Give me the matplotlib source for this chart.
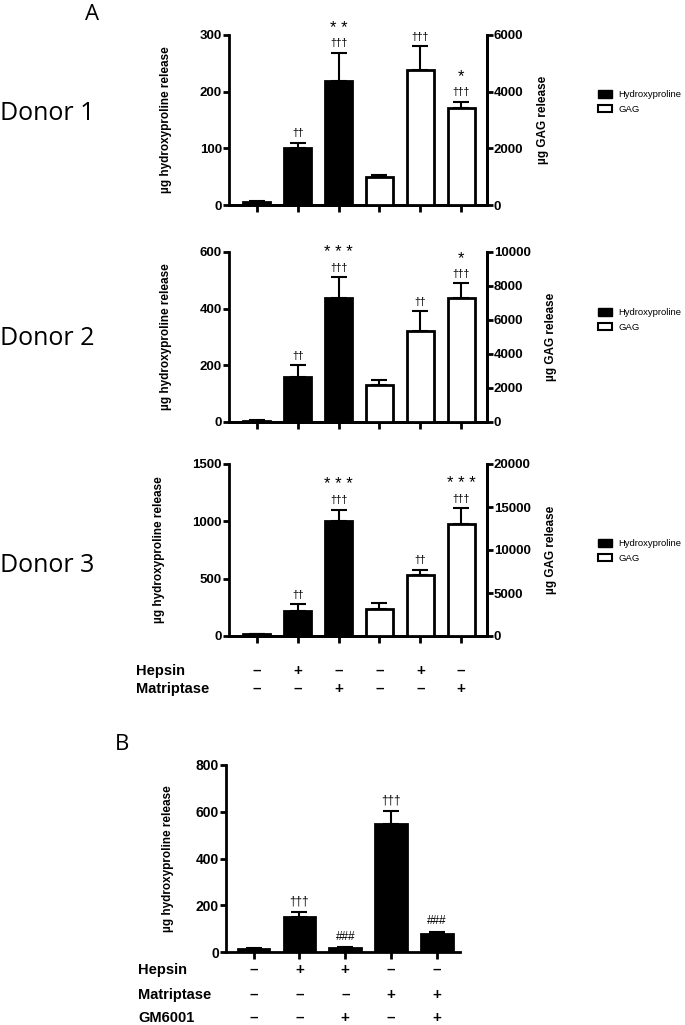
import matplotlib
matplotlib.use("Agg")
import matplotlib.pyplot as plt
from matplotlib.transforms import blended_transform_factory
from matplotlib.patches import Patch

plt.rcParams['font.family'] = ['Liberation Sans', 'DejaVu Sans']

# panel A data (per donor): hydroxyproline on left axis, GAG on right axis
hyp_d1 = [6, 101, 218]
hyp_err_d1 = [1, 9, 51]
gag_d1 = [1000, 4760, 3410]
gag_err_d1 = [60, 850, 240]

hyp_d2 = [5, 160, 438]
hyp_err_d2 = [1, 41, 73]
gag_d2 = [2200, 5350, 7310]
gag_err_d2 = [250, 1160, 870]

hyp_d3 = [15, 220, 1005]
hyp_err_d3 = [3, 55, 97]
gag_d3 = [3150, 7040, 13060]
gag_err_d3 = [700, 660, 1830]

hyp_marks_d1 = ["", "††", "†††"]
hyp_stars_d1 = ["", "", "* *"]
gag_marks_d1 = ["", "†††", "†††"]
gag_stars_d1 = ["", "", "*"]

hyp_marks_d2 = ["", "††", "†††"]
hyp_stars_d2 = ["", "", "* * *"]
gag_marks_d2 = ["", "††", "†††"]
gag_stars_d2 = ["", "", "*"]

hyp_marks_d3 = ["", "††", "†††"]
hyp_stars_d3 = ["", "", "* * *"]
gag_marks_d3 = ["", "††", "†††"]
gag_stars_d3 = ["", "", "* * *"]

hepsin_a = ["–", "+", "–", "–", "+", "–"]
matriptase_a = ["–", "–", "+", "–", "–", "+"]

# panel B data
hyp_b = [14, 150, 18, 546, 76]
hyp_err_b = [1, 20, 2, 57, 10]
marks_b = ["", "†††", "###", "†††", "###"]
hepsin_b = ["–", "+", "+", "–", "–"]
matriptase_b = ["–", "–", "–", "+", "+"]
gm6001_b = ["–", "–", "+", "–", "+"]

fig = plt.figure(figsize=(6.85, 10.25), dpi=100)
W, H = 685.0, 1025.0


def rect(x0, y0, x1, y1):
    return [x0 / W, 1 - y1 / H, (x1 - x0) / W, (y1 - y0) / H]


def style_axis(ax):
    ax.spines['top'].set_visible(False)
    for s in ["left", "bottom", "right"]:
        ax.spines[s].set_linewidth(2)
    ax.tick_params(axis='y', length=4, width=2, labelsize=9.5, pad=1)
    ax.tick_params(axis='x', length=5, width=2, labelbottom=False)
    for lab in ax.get_yticklabels():
        lab.set_fontweight('bold')


def draw_donor(y0, y1, hyp, hyp_err, gag, gag_err, hyp_lim, gag_lim,
               hyp_marks, hyp_stars, gag_marks, gag_stars, donor, donor_y, leg_y):
    ax = fig.add_axes(rect(229, y0, 487, y1))
    ax2 = ax.twinx()
    xh = [0, 1, 2]
    xg = [3, 4, 5]
    ax.bar(xh, hyp, width=0.66, color='black', edgecolor='black', linewidth=2, zorder=3)
    ax.errorbar(xh, hyp, yerr=[[0] * 3, hyp_err], fmt='none', ecolor='black',
                elinewidth=1.5, capsize=6, capthick=1.5, zorder=2)
    ax2.bar(xg, gag, width=0.66, color='white', edgecolor='black', linewidth=2, zorder=3)
    ax2.errorbar(xg, gag, yerr=[[0] * 3, gag_err], fmt='none', ecolor='black',
                 elinewidth=1.5, capsize=6, capthick=1.5, zorder=2)
    ax.set_xlim(-0.68, 5.63)
    ax.set_ylim(0, hyp_lim[-1])
    ax.set_yticks(hyp_lim)
    ax2.set_ylim(0, gag_lim[-1])
    ax2.set_yticks(gag_lim)
    ax.set_xticks(range(6))
    style_axis(ax)
    style_axis(ax2)
    ax2.spines['left'].set_visible(False)
    ax2.tick_params(axis='x', bottom=False)
    ax.set_ylabel("µg hydroxyproline release", fontsize=8.5, fontweight='bold', labelpad=20)
    ax2.set_ylabel("µg GAG release", fontsize=8.5, fontweight='bold', labelpad=10)

    hr = hyp_lim[-1]
    gr = gag_lim[-1]
    for i in range(3):
        top = hyp[i] + hyp_err[i]
        if hyp_marks[i]:
            ax.text(xh[i], top + hr * 0.025, hyp_marks[i], ha='center', va='bottom', fontsize=7.5)
        if hyp_stars[i]:
            ax.text(xh[i], top + hr * 0.1, hyp_stars[i], ha='center', va='bottom', fontsize=12)
        top = gag[i] + gag_err[i]
        if gag_marks[i]:
            ax2.text(xg[i], top + gr * 0.025, gag_marks[i], ha='center', va='bottom', fontsize=7.5)
        if gag_stars[i]:
            ax2.text(xg[i], top + gr * 0.1, gag_stars[i], ha='center', va='bottom', fontsize=12)

    fig.text(0 / W, 1 - donor_y / H, donor, fontsize=18,
             family=['Open Sans', 'DejaVu Sans'], va='center', ha='left')
    handles = [Patch(facecolor='black', edgecolor='black', label='Hydroxyproline'),
               Patch(facecolor='white', edgecolor='black', linewidth=1.5, label='GAG')]
    fig.legend(handles=handles, loc='upper left', bbox_to_anchor=(594 / W, 1 - leg_y / H),
               frameon=False, fontsize=6.8, handlelength=1.5, handleheight=0.9,
               labelspacing=0.6, handletextpad=0.7, borderaxespad=0)
    return ax


draw_donor(35, 205, hyp_d1, hyp_err_d1, gag_d1, gag_err_d1,
           [0, 100, 200, 300], [0, 2000, 4000, 6000],
           hyp_marks_d1, hyp_stars_d1, gag_marks_d1, gag_stars_d1, "Donor 1", 113, 86)
draw_donor(252, 422, hyp_d2, hyp_err_d2, gag_d2, gag_err_d2,
           [0, 200, 400, 600], [0, 2000, 4000, 6000, 8000, 10000],
           hyp_marks_d2, hyp_stars_d2, gag_marks_d2, gag_stars_d2, "Donor 2", 338, 304)
ax3 = draw_donor(464, 636, hyp_d3, hyp_err_d3, gag_d3, gag_err_d3,
                 [0, 500, 1000, 1500], [0, 5000, 10000, 15000, 20000],
                 hyp_marks_d3, hyp_stars_d3, gag_marks_d3, gag_stars_d3, "Donor 3", 566, 535)

tr = blended_transform_factory(ax3.transData, fig.transFigure)
for i in range(6):
    fig.text(i, 1 - 671 / H, hepsin_a[i], transform=tr, ha='center', va='center',
             fontsize=11, fontweight='bold')
    fig.text(i, 1 - 689 / H, matriptase_a[i], transform=tr, ha='center', va='center',
             fontsize=11, fontweight='bold')
fig.text(136 / W, 1 - 671 / H, "Hepsin", fontsize=10.5, fontweight='bold', va='center')
fig.text(136 / W, 1 - 689 / H, "Matriptase", fontsize=10.5, fontweight='bold', va='center')
fig.text(92 / W, 1 - 14 / H, "A", fontsize=16, family=['Open Sans', 'DejaVu Sans'],
         va='center', ha='center')

# panel B
axb = fig.add_axes(rect(226, 765, 460, 952))
xb = range(5)
axb.bar(xb, hyp_b, width=0.69, color='black', edgecolor='black', linewidth=2, zorder=3)
axb.errorbar(xb, hyp_b, yerr=[[0] * 5, hyp_err_b], fmt='none', ecolor='black',
             elinewidth=1.5, capsize=6, capthick=1.5, zorder=2)
axb.set_xlim(-0.6, 4.5)
axb.set_ylim(0, 800)
axb.set_yticks([0, 200, 400, 600, 800])
axb.set_xticks(range(5))
style_axis(axb)
axb.tick_params(axis='y', labelsize=10)
axb.spines['right'].set_visible(False)
axb.set_ylabel("µg hydroxyproline release", fontsize=8.5, fontweight='bold', labelpad=16)
for i in range(5):
    if marks_b[i]:
        axb.text(i, hyp_b[i] + hyp_err_b[i] + 20, marks_b[i], ha='center', va='bottom', fontsize=8.5)

trb = blended_transform_factory(axb.transData, fig.transFigure)
rows_b = [("Hepsin", hepsin_b, 970), ("Matriptase", matriptase_b, 995), ("GM6001", gm6001_b, 1018)]
for name, signs, yy in rows_b:
    fig.text(138 / W, 1 - yy / H, name, fontsize=10.5, fontweight='bold', va='center')
    for i in range(5):
        fig.text(i, 1 - yy / H, signs[i], transform=trb, ha='center', va='center',
                 fontsize=11, fontweight='bold')
fig.text(122 / W, 1 - 745 / H, "B", fontsize=16, family=['Open Sans', 'DejaVu Sans'],
         va='center', ha='center')

fig.savefig("out.png", dpi=100)
